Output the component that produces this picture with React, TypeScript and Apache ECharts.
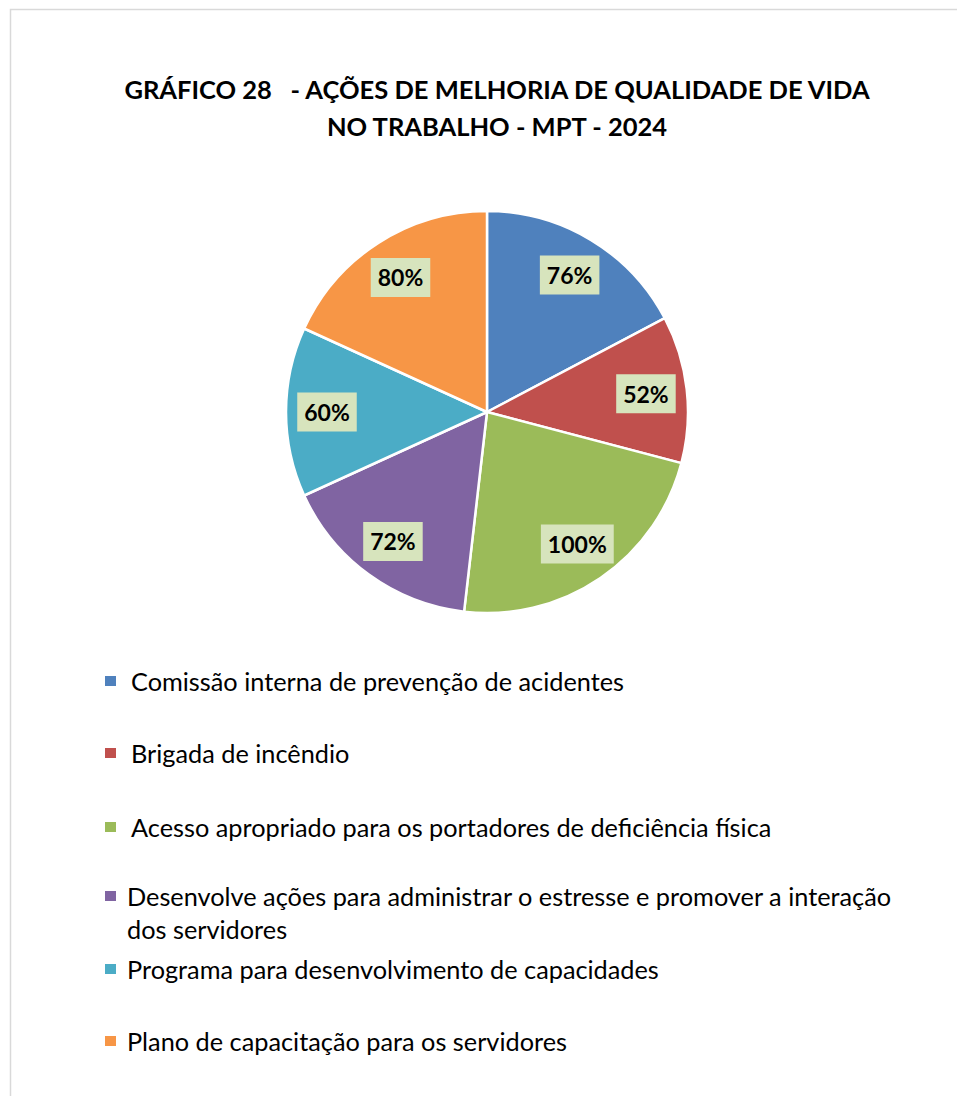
import React, { useEffect, useRef } from "react";
import * as echarts from "echarts";

const categories = [
  "Comissão interna de prevenção de acidentes",
  "Brigada de incêndio",
  "Acesso apropriado para os portadores de deficiência física",
  "Desenvolve ações para administrar o estresse e promover a interação dos servidores",
  "Programa para desenvolvimento de capacidades",
  "Plano de capacitação para os servidores",
];
const values = [76, 52, 100, 72, 60, 80];
const colors = ["#4F81BD", "#C0504D", "#9BBB59", "#8064A2", "#4BACC6", "#F79646"];
const titleLines = ["GRÁFICO 28   - AÇÕES DE MELHORIA DE QUALIDADE DE VIDA", "NO TRABALHO - MPT - 2024"];

// layout (page pixels)
const legendCenterY = [681, 753, 827, 896, 969, 1041];
const legendTextPad = [10, 10, 10, 6, 6, 6];
const legendWrapAt = 67; // characters per line for the long legend entry

const FONT = "Lato, 'Noto Sans', sans-serif";

function wrapWords(text: string, maxChars: number) {
  const words = text.split(" ");
  const lines: string[] = [];
  let cur = "";
  for (const w of words) {
    const next = cur ? cur + " " + w : w;
    if (next.length > maxChars && cur) {
      lines.push(cur);
      cur = w;
    } else cur = next;
  }
  if (cur) lines.push(cur);
  return lines.join("\n");
}

export default function App() {
  const ref = useRef<HTMLDivElement>(null);
  useEffect(() => {
    if (!ref.current) return;
    const chart = echarts.init(ref.current, undefined, { renderer: "svg" });
    const data = categories.map((name, i) => ({
      name,
      value: values[i],
      itemStyle: { color: colors[i] },
    }));
    const lineH = 30;
    const lineH2 = 33;
    const legends = categories.map((name, i) => {
      const twoLine = name.length > legendWrapAt;
      const base: any = {
        orient: "vertical",
        left: 105,
        padding: 0,
        data: [name],
        itemWidth: 11,
        itemHeight: 10,
        icon: "rect",
        itemStyle: { borderWidth: 0 },
        selectedMode: false,
        textStyle: {
          fontFamily: FONT,
          fontSize: 25.3,
          color: "#000",
          lineHeight: lineH,
          padding: [0, 0, 0, legendTextPad[i]],
        },
        top: legendCenterY[i] - lineH / 2,
      };
      if (twoLine) {
        base.itemHeight = 10 + lineH2;
        base.icon = "path://M0 0H11V10H0Z M0 43H11";
        base.formatter = (n: string) => wrapWords(n, legendWrapAt);
        base.textStyle = { ...base.textStyle, lineHeight: lineH2 };
        base.top = legendCenterY[i] - lineH2 / 2;
      }
      return base;
    });
    chart.setOption({
      animation: false,
      title: {
        text: titleLines.join("\n"),
        left: 497,
        textAlign: "center",
        top: 89 - 18.5,
        padding: 0,
        textStyle: {
          fontFamily: FONT,
          fontWeight: "bold",
          fontSize: 25.5,
          lineHeight: 37,
          color: "#000",
        },
      },
      legend: legends,
      graphic: [
        {
          type: "rect",
          shape: { x: 10.5, y: 9.5, width: 1200, height: 1300 },
          style: { fill: "none", stroke: "#D9D9D9", lineWidth: 1.5 },
          silent: true,
          z: -1,
        },
      ],
      series: [
        {
          type: "pie",
          center: [487, 412],
          radius: [0, 201],
          startAngle: 90,
          clockwise: true,
          data,
          label: { show: false },
          labelLine: { show: false },
          itemStyle: { borderColor: "#fff", borderWidth: 2.5 },
          emphasis: { disabled: true },
          silent: true,
        },
        {
          type: "pie",
          center: [487, 412],
          radius: [113, 201],
          startAngle: 90,
          clockwise: true,
          data: categories.map((name, i) => ({ name, value: values[i] })),
          itemStyle: { color: "rgba(0,0,0,0)", borderWidth: 0 },
          labelLine: { show: false },
          label: {
            show: true,
            position: "inside",
            rotate: 0,
            formatter: "{c}%",
            fontFamily: FONT,
            fontWeight: "bold",
            fontSize: 23,
            lineHeight: 25,
            color: "#000",
            backgroundColor: "#D7E4BD",
            padding: [7, 7],
          },
          emphasis: { disabled: true },
          silent: true,
          legendHoverLink: false,
        },
      ],
    });
    return () => chart.dispose();
  }, []);
  return (
    <div
      ref={ref}
      style={{ position: "absolute", left: 0, top: 0, width: 957, height: 1096, background: "#fff" }}
    />
  );
}
